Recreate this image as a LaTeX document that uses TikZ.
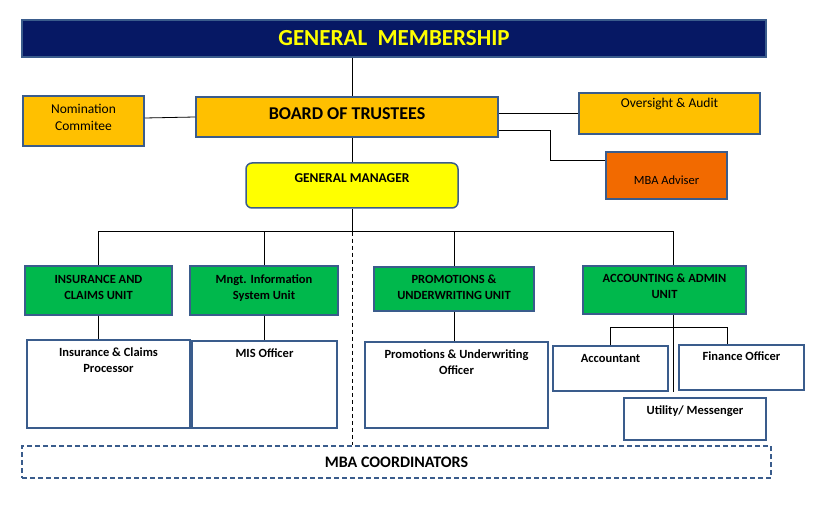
\documentclass[tikz,border=0pt]{standalone}
\usepackage{fontspec}
\setmainfont{Carlito}
\usepackage{tikz}
\usetikzlibrary{positioning, calc}
\definecolor{navy}{RGB}{6,24,100}
\definecolor{headtext}{RGB}{255,255,0}
\definecolor{gold}{RGB}{255,192,0}
\definecolor{gmyellow}{RGB}{255,255,0}
\definecolor{adviser}{RGB}{242,106,0}
\definecolor{unitgreen}{RGB}{0,184,76}
\definecolor{edge}{RGB}{58,92,140}

\begin{document}
\begin{tikzpicture}[x=1pt, y=-1pt,
		box/.style={draw=edge, line width=1.5pt, inner sep=0pt, align=center},
		unit/.style={box, fill=unitgreen, text depth=7pt, font=\fontsize{12.5}{16}\selectfont\bfseries},
		post/.style={box, fill=white},
		lbl/.style={inner sep=0pt, align=center, font=\fontsize{12.5}{16}\selectfont\bfseries},
		link/.style={line width=.8pt}]
		\useasboundingbox (0,0) rectangle (828,505);
		% top of the tree
		\node[box, fill=navy, minimum width=744pt, minimum height=37pt, text=headtext, font=\fontsize{23}{26}\selectfont\bfseries] (memb) at (394,38.5) {GENERAL\ \ MEMBERSHIP};
		\node[box, fill=gold, minimum width=302pt, minimum height=40pt, text depth=7pt, font=\fontsize{18}{20}\selectfont\bfseries] (board) at (347,117) {BOARD OF TRUSTEES};
		\node[box, fill=gold, minimum width=121pt, minimum height=50pt, text depth=8pt, font=\fontsize{13.5}{17}\selectfont] (nomin) at (83.5,121) {Nomination\\Commitee};
		\node[box, fill=gold, minimum width=181pt, minimum height=41pt] (audit) at (669.5,113.5) {};
		\node[lbl, font=\fontsize{13.5}{16}\selectfont, below=6pt of audit.north] (audit-t) {Oversight \& Audit};
		\node[box, fill=adviser, minimum width=121pt, minimum height=47pt, text height=19pt, font=\fontsize{12.5}{15}\selectfont] (advise) at (666.5,175.5) {MBA Adviser};
		\node[box, fill=gmyellow, rounded corners=6pt, minimum width=212pt, minimum height=45pt] (manager) at (352,185.5) {};
		\node[lbl, font=\fontsize{13.5}{16}\selectfont\bfseries, below=11pt of manager.north] (manager-t) {GENERAL MANAGER};
		% units
		\node[unit, minimum width=147pt, minimum height=49pt] (claims) at (98.5,290.5) {INSURANCE AND\\CLAIMS UNIT};
		\node[unit, minimum width=148pt, minimum height=49pt] (mis) at (264,290.5) {Mngt. Information\\System Unit};
		\node[unit, minimum width=160pt, minimum height=44pt, text depth=4pt] (promo) at (454,289) {PROMOTIONS \&\\UNDERWRITING UNIT};
		\node[unit, minimum width=163pt, minimum height=48pt] (admin) at (664.5,290) {ACCOUNTING \& ADMIN\\UNIT};
		% staff
		\node[post, minimum width=163pt, minimum height=88pt] (processor) at (108.5,384) {};
		\node[lbl, below=8pt of processor.north] (processor-t) {Insurance \& Claims\\Processor};
		\node[post, minimum width=145pt, minimum height=87pt] (misofficer) at (264.5,384.5) {};
		\node[lbl, below=8pt of misofficer.north] (misofficer-t) {MIS Officer};
		\node[post, minimum width=183pt, minimum height=86pt] (promoofficer) at (456.5,385) {};
		\node[lbl, below=8pt of promoofficer.north] (promoofficer-t) {Promotions \& Underwriting\\Officer};
		\node[post, minimum width=115pt, minimum height=45pt] (accountant) at (610.5,368.5) {};
		\node[lbl, below=9pt of accountant.north] (accountant-t) {Accountant};
		\node[post, minimum width=125pt, minimum height=45pt] (finance) at (741.5,367.5) {};
		\node[lbl, below=7pt of finance.north] (finance-t) {Finance Officer};
		\node[post, minimum width=142pt, minimum height=42pt] (utility) at (695,419) {};
		\node[lbl, below=8pt of utility.north] (utility-t) {Utility/ Messenger};
		\node[box, dash pattern=on 5pt off 3pt, minimum width=749pt, minimum height=32pt, font=\fontsize{16}{18}\selectfont\bfseries] (coord) at (396.5,462) {MBA COORDINATORS};
		% connectors
		\coordinate (bus) at ([yshift=-23pt]manager.south);
		\coordinate (accspine) at ($(accountant.east)!.5!(finance.west)$);
		\coordinate (subbus) at ([yshift=-13pt]admin.south);
		\draw[link] (memb.south -| manager.north) -- (board.north -| manager.north);
		\draw[link] (board.south -| manager.north) -- (manager.north);
		\draw[link] ([yshift=3pt]nomin.east) -- (board.west);
		\draw[link] (board.east |- audit.west) -- (audit.west);
		\draw[link] ([yshift=-13pt]board.east) -| ([xshift=-55pt, yshift=15pt]advise.west) -- ([yshift=15pt]advise.west);
		\draw[link] (manager.south) -- (bus);
		\draw[link] (claims.north) |- (bus -| accspine) -- (admin.north -| accspine);
		\draw[link] (mis.north) -- (mis.north |- bus);
		\draw[link] (promo.north) -- (promo.north |- bus);
		\draw[link, dash pattern=on 4pt off 3pt] (bus) -- (coord.north -| bus);
		\draw[link] (claims.south) -- (claims.south |- processor.north);
		\draw[link] (mis.south) -- (mis.south |- misofficer.north);
		\draw[link] (promo.south) -- (promo.south |- promoofficer.north);
		\draw[link] (admin.south -| accspine) -- ([yshift=5pt]utility.north -| accspine);
		\draw[link] (accountant.north) |- ([xshift=-14pt]subbus -| finance.north) -- ([xshift=-14pt]finance.north);
	\end{tikzpicture}
\end{document}
